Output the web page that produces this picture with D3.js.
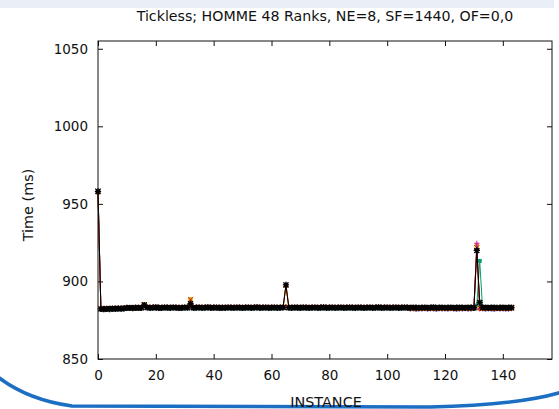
<!DOCTYPE html>
<html>
<head>
<meta charset="utf-8">
<script src="https://cdn.jsdelivr.net/npm/d3@7"></script>
<style>
  html, body { margin: 0; padding: 0; background: #fff; }
  svg { display: block; }
  text { font-family: "DejaVu Sans", sans-serif; fill: #111; }
</style>
</head>
<body>
<svg id="chart" width="559" height="409"></svg>
<script>
const title = "Tickless; HOMME 48 Ranks, NE=8, SF=1440, OF=0,0";
const xLabel = "INSTANCE";
const yLabel = "Time (ms)";
const xTicks = [0, 20, 40, 60, 80, 100, 120, 140];
const yTicks = [850, 900, 950, 1000, 1050];

const seriesTeal = [
 957.4,882.0,881.9,882.1,882.0,882.2,882.0,882.3,882.1,882.4,882.6,882.7,
 882.6,882.8,882.7,882.7,884.9,882.9,882.7,882.8,883.0,882.6,882.7,882.9,
 882.8,882.7,882.9,882.8,882.6,882.7,882.9,882.8,883.6,882.7,882.8,882.9,
 882.7,882.8,883.0,882.7,882.8,882.9,882.6,882.8,882.7,882.9,882.8,882.7,
 882.9,882.8,882.7,882.8,882.9,882.7,882.8,883.0,882.7,882.8,882.9,882.7,
 882.8,882.9,882.7,882.8,882.9,883.1,882.8,882.7,882.9,882.8,882.7,882.9,
 882.8,882.7,882.8,882.9,882.7,882.8,883.0,882.7,882.8,882.9,882.7,882.8,
 882.9,882.7,882.8,882.9,882.8,882.7,882.9,882.8,882.7,882.8,882.9,882.7,
 882.8,883.0,882.7,882.8,882.9,882.7,882.8,882.9,882.7,882.8,882.9,882.8,
 882.3,882.5,882.1,882.4,882.3,882.5,882.2,882.4,882.4,882.1,882.5,882.3,
 882.4,882.2,882.5,882.3,882.1,882.4,882.3,882.5,882.2,882.3,882.6,884.5,
 913.2,882.5,882.2,882.4,882.3,882.1,882.5,882.3,882.4,882.2,882.3,882.5];

const seriesSky = [
 957.0,881.8,881.7,881.9,881.8,882.0,881.9,882.1,882.0,882.2,882.5,882.6,
 882.5,882.7,882.6,882.6,884.2,882.8,882.6,882.7,882.9,882.5,882.6,882.8,
 882.7,882.6,882.8,882.7,882.5,882.6,882.8,882.7,884.5,882.6,882.7,882.8,
 882.6,882.7,882.9,882.6,882.7,882.8,882.5,882.7,882.6,882.8,882.7,882.6,
 882.8,882.7,882.6,882.7,882.8,882.6,882.7,882.9,882.6,882.7,882.8,882.6,
 882.7,882.8,882.6,882.7,882.8,883.1,882.7,882.6,882.8,882.7,882.6,882.8,
 882.7,882.6,882.7,882.8,882.6,882.7,882.9,882.6,882.7,882.8,882.6,882.7,
 882.8,882.6,882.7,882.8,882.7,882.6,882.8,882.7,882.6,882.7,882.8,882.6,
 882.7,882.9,882.6,882.7,882.8,882.6,882.7,882.8,882.6,882.7,882.8,882.7,
 882.2,882.4,882.0,882.3,882.2,882.4,882.1,882.3,882.3,882.0,882.4,882.2,
 882.3,882.1,882.4,882.2,882.0,882.3,882.2,882.4,882.1,882.2,882.5,921.0,
 882.8,882.4,882.1,882.3,882.2,882.0,882.4,882.2,882.3,882.1,882.2,882.4];

const seriesYellow = [
 957.2,882.5,882.3,882.6,882.4,882.7,882.5,882.8,882.6,882.9,883.1,883.2,
 883.0,883.3,883.1,883.2,884.5,883.4,883.2,883.3,883.5,883.1,883.2,883.4,
 883.3,883.2,883.4,883.3,883.1,883.2,883.4,883.3,887.8,883.2,883.3,883.4,
 883.2,883.3,883.5,883.2,883.3,883.4,883.1,883.3,883.2,883.4,883.3,883.2,
 883.4,883.3,883.2,883.3,883.4,883.2,883.3,883.5,883.2,883.3,883.4,883.2,
 883.3,883.4,883.2,883.3,883.4,883.8,883.3,883.2,883.4,883.3,883.2,883.4,
 883.3,883.2,883.3,883.4,883.2,883.3,883.5,883.2,883.3,883.4,883.2,883.3,
 883.4,883.2,883.3,883.4,883.3,883.2,883.4,883.3,883.2,883.3,883.4,883.2,
 883.3,883.5,883.2,883.3,883.4,883.2,883.3,883.4,883.2,883.3,883.4,883.3,
 882.6,882.8,882.4,882.7,882.6,882.8,882.5,882.7,882.7,882.4,882.8,882.6,
 882.7,882.5,882.8,882.6,882.4,882.7,882.6,882.8,882.5,882.6,882.9,922.8,
 882.6,882.8,882.5,882.7,882.6,882.4,882.8,882.6,882.7,882.5,882.6,882.8];

const seriesOrange = [
 957.6,882.1,882.0,882.2,882.1,882.3,882.1,882.4,882.2,882.5,882.7,882.8,
 882.6,882.9,882.7,882.8,885.3,883.0,882.8,882.9,883.1,882.7,882.8,883.0,
 882.9,882.8,883.0,882.9,882.7,882.8,883.0,882.9,888.6,882.8,882.9,883.0,
 882.8,882.9,883.1,882.8,882.9,883.0,882.7,882.9,882.8,883.0,882.9,882.8,
 883.0,882.9,882.8,882.9,883.0,882.8,882.9,883.1,882.8,882.9,883.0,882.8,
 882.9,883.0,882.8,882.9,883.0,897.2,882.9,882.8,883.0,882.9,882.8,883.0,
 882.9,882.8,882.9,883.0,882.8,882.9,883.1,882.8,882.9,883.0,882.8,882.9,
 883.0,882.8,882.9,883.0,882.9,882.8,883.0,882.9,882.8,882.9,883.0,882.8,
 882.9,883.1,882.8,882.9,883.0,882.8,882.9,883.0,882.8,882.9,883.0,882.9,
 882.4,882.6,882.2,882.5,882.4,882.6,882.3,882.5,882.5,882.2,882.6,882.4,
 882.5,882.3,882.6,882.4,882.2,882.5,882.4,882.6,882.3,882.4,883.0,923.6,
 882.4,882.6,882.3,882.5,882.4,882.2,882.6,882.4,882.5,882.3,882.4,882.6];

const seriesPurple = [
 957.9,882.4,882.2,882.5,882.3,882.6,882.4,882.7,882.5,882.8,883.0,883.1,
 882.9,883.2,883.0,883.1,884.6,883.3,883.1,883.2,883.4,883.0,883.1,883.3,
 883.2,883.1,883.3,883.2,883.0,883.1,883.3,883.2,884.0,883.1,883.2,883.3,
 883.1,883.2,883.4,883.1,883.2,883.3,883.0,883.2,883.1,883.3,883.2,883.1,
 883.3,883.2,883.1,883.2,883.3,883.1,883.2,883.4,883.1,883.2,883.3,883.1,
 883.2,883.3,883.1,883.2,883.3,883.6,883.2,883.1,883.3,883.2,883.1,883.3,
 883.2,883.1,883.2,883.3,883.1,883.2,883.4,883.1,883.2,883.3,883.1,883.2,
 883.3,883.1,883.2,883.3,883.2,883.1,883.3,883.2,883.1,883.2,883.3,883.1,
 883.2,883.4,883.1,883.2,883.3,883.1,883.2,883.3,883.1,883.2,883.3,883.2,
 882.3,882.5,882.1,882.4,882.3,882.5,882.2,882.4,882.4,882.1,882.5,882.3,
 882.4,882.2,882.5,882.3,882.1,882.4,882.3,882.5,882.2,882.3,882.6,924.6,
 882.3,882.5,882.2,882.4,882.3,882.1,882.5,882.3,882.4,882.2,882.3,882.5];

const seriesRed = [
 958.3,882.5,882.3,882.6,882.4,882.7,882.5,882.8,882.6,882.9,883.1,883.2,
 883.0,883.3,883.1,883.2,885.0,883.4,883.2,883.3,883.5,883.1,883.2,883.4,
 883.3,883.2,883.4,883.3,883.1,883.2,883.4,883.3,888.2,883.2,883.3,883.4,
 883.2,883.3,883.5,883.2,883.3,883.4,883.1,883.3,883.2,883.4,883.3,883.2,
 883.4,883.3,883.2,883.3,883.4,883.2,883.3,883.5,883.2,883.3,883.4,883.2,
 883.3,883.4,883.2,883.3,883.4,897.5,883.3,883.2,883.4,883.3,883.2,883.4,
 883.3,883.2,883.3,883.4,883.2,883.3,883.5,883.2,883.3,883.4,883.2,883.3,
 883.4,883.2,883.3,883.4,883.3,883.2,883.4,883.3,883.2,883.3,883.4,883.2,
 883.3,883.5,883.2,883.3,883.4,883.2,883.3,883.4,883.2,883.3,883.4,883.3,
 882.8,883.0,882.6,882.9,882.8,883.0,882.7,882.9,882.9,882.6,883.0,882.8,
 882.9,882.7,883.0,882.8,882.6,882.9,882.8,883.0,882.7,882.8,883.4,921.8,
 883.0,882.8,882.6,882.9,882.8,882.6,882.9,882.7,882.8,882.6,882.8,882.9];

const seriesBlack = [
 958.0,882.3,882.1,882.4,882.2,882.5,882.3,882.6,882.4,882.7,882.9,883.0,
 882.8,883.1,882.9,883.0,884.8,883.2,883.0,883.1,883.3,882.9,883.0,883.2,
 883.1,883.0,883.2,883.1,882.9,883.0,883.2,883.1,885.6,883.0,883.1,883.2,
 883.0,883.1,883.3,883.0,883.1,883.2,882.9,883.1,883.0,883.2,883.1,883.0,
 883.2,883.1,883.0,883.1,883.2,883.0,883.1,883.3,883.0,883.1,883.2,883.0,
 883.1,883.2,883.0,883.1,883.2,897.8,883.1,883.0,883.2,883.1,883.0,883.2,
 883.1,883.0,883.1,883.2,883.0,883.1,883.3,883.0,883.1,883.2,883.0,883.1,
 883.2,883.0,883.1,883.2,883.1,883.0,883.2,883.1,883.0,883.1,883.2,883.0,
 883.1,883.3,883.0,883.1,883.2,883.0,883.1,883.2,883.0,883.1,883.2,883.1,
 883.0,883.2,883.1,883.0,883.1,883.2,883.0,883.1,883.3,883.0,883.1,883.2,
 883.0,883.1,883.2,883.0,883.1,883.2,883.1,883.0,883.2,883.1,883.0,920.0,
 886.5,883.1,883.2,883.0,883.1,883.2,883.0,883.1,883.2,883.0,883.1,883.2];

const series = [
  { values: seriesTeal,   color: "#009e73", mark: "fsquare" },
  { values: seriesSky,    color: "#56b4e9", mark: "circle" },
  { values: seriesYellow, color: "#f0e442", mark: "fsquare" },
  { values: seriesOrange, color: "#e69f00", mark: "fsquare" },
  { values: seriesPurple, color: "#d21fb0", mark: "plus" },
  { values: seriesRed,    color: "#b5200f", mark: "cross" },
  { values: seriesBlack,  color: "#000000", mark: "star" }
];

const svg = d3.select("#chart");

// slide decoration
svg.append("rect").attr("x", 0).attr("y", 0).attr("width", 554).attr("height", 8)
  .attr("fill", "#e9eef7");
svg.append("path")
  .attr("d", "M-2,377 Q28,400 72,406 L430,407 Q520,405 562,392")
  .attr("fill", "none").attr("stroke", "#1b6ec2").attr("stroke-width", 3.5);

const pLeft = 98, pRight = 552, pTop = 41, pBottom = 359;
const x = d3.scaleLinear().domain([0, 157]).range([pLeft, pRight]);
const y = d3.scaleLinear().domain([850, 1055]).range([pBottom, pTop]);

const plot = svg.append("g");

const tickLen = 5;
const axB = svg.append("g").attr("transform", `translate(0,${pBottom})`)
  .call(d3.axisBottom(x).tickValues(xTicks).tickFormat(d3.format("d")).tickSize(-tickLen).tickPadding(11).tickSizeOuter(0));
const axT = svg.append("g").attr("transform", `translate(0,${pTop})`)
  .call(d3.axisTop(x).tickValues(xTicks).tickSize(-tickLen).tickFormat("").tickSizeOuter(0));
const axL = svg.append("g").attr("transform", `translate(${pLeft},0)`)
  .call(d3.axisLeft(y).tickValues(yTicks).tickFormat(d3.format("d")).tickSize(-tickLen).tickPadding(10).tickSizeOuter(0));
const axR = svg.append("g").attr("transform", `translate(${pRight},0)`)
  .call(d3.axisRight(y).tickValues(yTicks).tickSize(-tickLen).tickFormat("").tickSizeOuter(0));
[axB, axT, axL, axR].forEach(a => {
  a.select(".domain").remove();
  a.selectAll("line").attr("stroke", "#111").attr("stroke-width", 1);
  a.selectAll("text").attr("font-family", "DejaVu Sans, sans-serif").attr("font-size", 13.5).attr("fill", "#111");
});

const line = d3.line().x((d, i) => x(i)).y(d => y(d));
function markPath(type, cx, cy, r) {
  switch (type) {
    case "plus": return `M${cx-r},${cy}H${cx+r}M${cx},${cy-r}V${cy+r}`;
    case "cross": return `M${cx-r},${cy-r}L${cx+r},${cy+r}M${cx-r},${cy+r}L${cx+r},${cy-r}`;
    case "star": return `M${cx-r},${cy}H${cx+r}M${cx},${cy-r}V${cy+r}M${cx-r*0.8},${cy-r*0.8}L${cx+r*0.8},${cy+r*0.8}M${cx-r*0.8},${cy+r*0.8}L${cx+r*0.8},${cy-r*0.8}`;
    default: return "";
  }
}
series.forEach(s => {
  const g = plot.append("g");
  g.append("path").datum(s.values).attr("d", line)
    .attr("fill", "none").attr("stroke", s.color).attr("stroke-width", 1);
  s.values.forEach((v, i) => {
    const cx = x(i), cy = y(v);
    if (s.mark === "fsquare") {
      g.append("rect").attr("x", cx - 2).attr("y", cy - 2).attr("width", 4).attr("height", 4).attr("fill", s.color);
    } else if (s.mark === "circle") {
      g.append("circle").attr("cx", cx).attr("cy", cy).attr("r", 2).attr("fill", "none").attr("stroke", s.color).attr("stroke-width", 0.8);
    } else {
      const r = s.mark === "star" ? 3.1 : 2.6;
      g.append("path").attr("d", markPath(s.mark, cx, cy, r)).attr("fill", "none").attr("stroke", s.color)
        .attr("stroke-width", s.mark === "star" ? 1.4 : 1);
    }
  });
});

svg.append("rect").attr("x", pLeft).attr("y", pTop).attr("width", pRight - pLeft).attr("height", pBottom - pTop)
  .attr("fill", "none").attr("stroke", "#111").attr("stroke-width", 1);

svg.append("text").attr("x", 325).attr("y", 21).attr("text-anchor", "middle").attr("font-size", 14.2).text(title);
svg.append("text").attr("x", 326).attr("y", 407).attr("text-anchor", "middle").attr("font-size", 14.4).text(xLabel);
svg.append("text").attr("transform", "translate(33,205) rotate(-90)").attr("text-anchor", "middle").attr("font-size", 14.4).text(yLabel);
</script>
</body>
</html>
